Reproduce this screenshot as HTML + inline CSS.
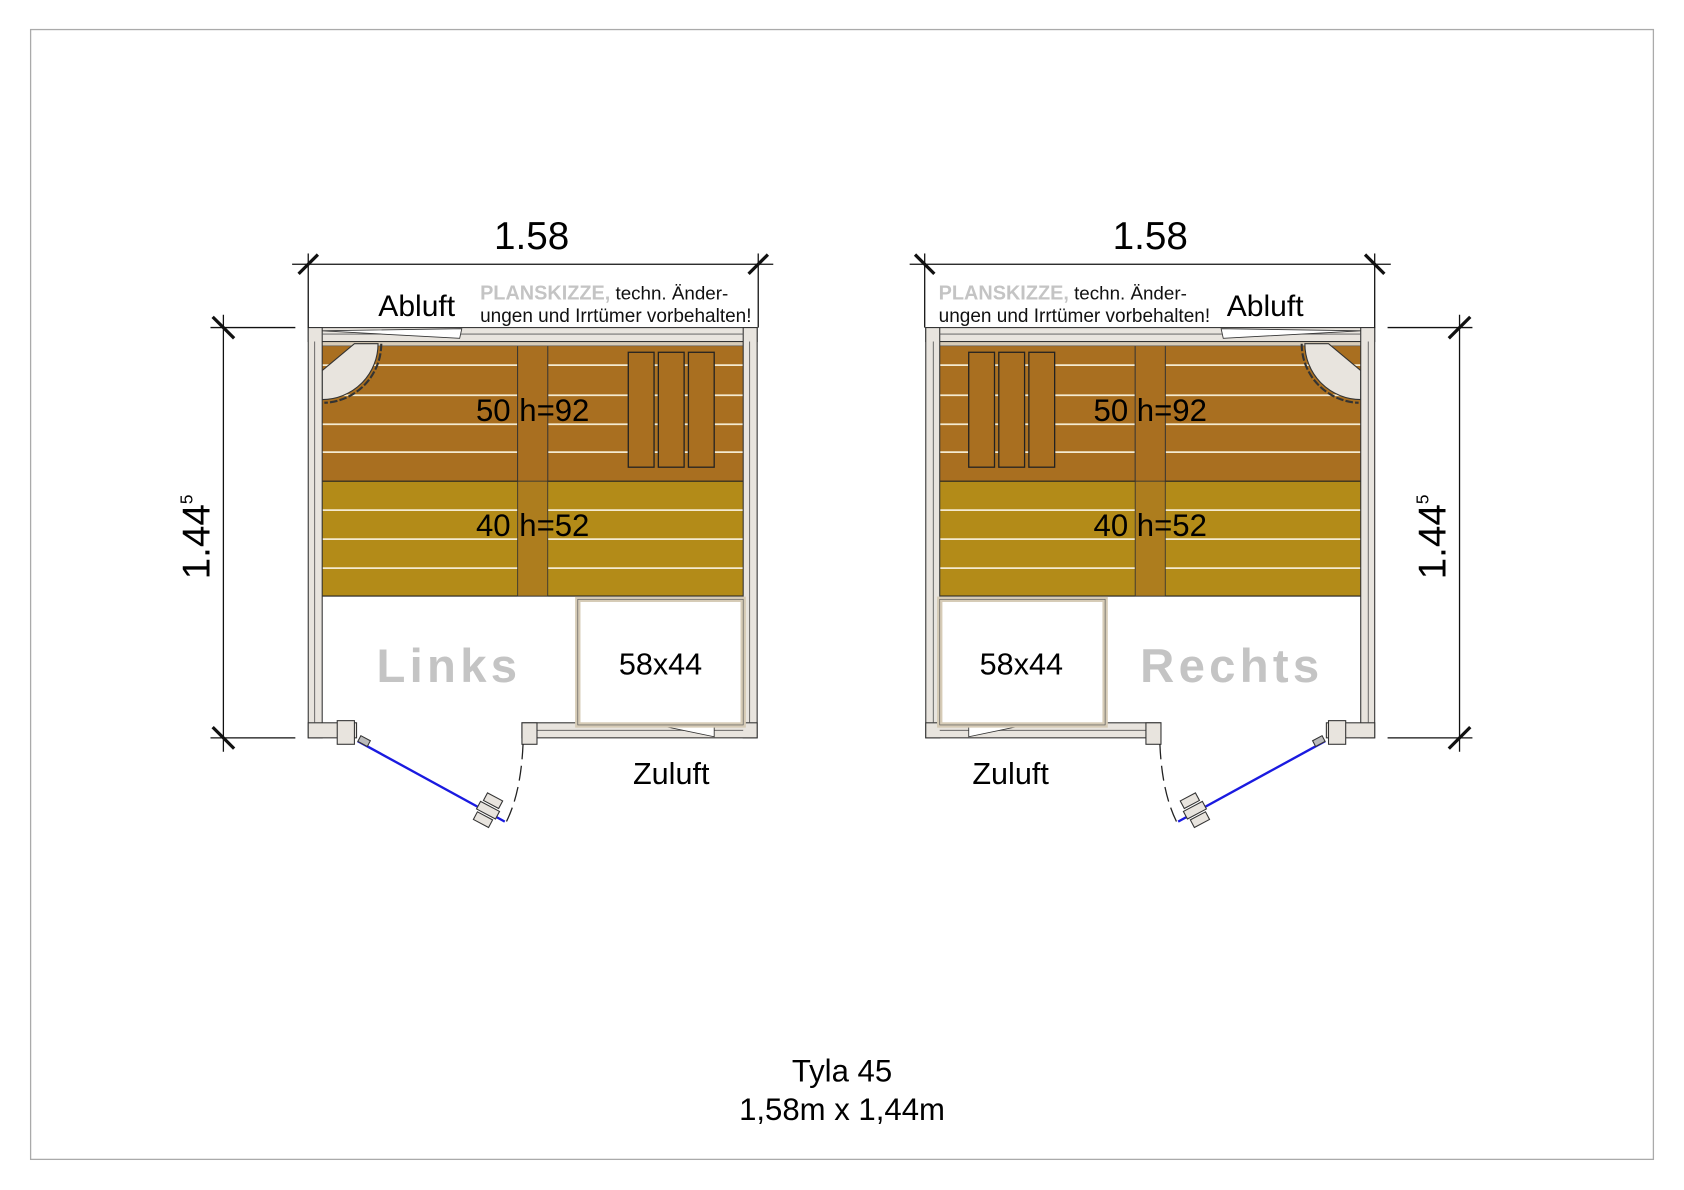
<!DOCTYPE html>
<html><head><meta charset="utf-8"><style>
html,body{margin:0;padding:0;background:#fff;}
svg{display:block;}
text{font-family:"Liberation Sans",sans-serif;}
</style></head><body>
<svg width="1684" height="1190" viewBox="0 0 1568 1108" xmlns="http://www.w3.org/2000/svg">
<rect x="0" y="0" width="1568" height="1108" fill="#fff"/>
<rect x="28.5" y="27.5" width="1511" height="1052" fill="none" stroke="#aaa" stroke-width="1.2"/>
<defs>
<g id="sauna">
  <rect x="300" y="318" width="392" height="130" fill="#a96f20"/>
  <rect x="300" y="448" width="392" height="107" fill="#b38b18"/>
  <line x1="300" y1="448" x2="692" y2="448" stroke="#222" stroke-width="1"/>
  <line x1="300" y1="555" x2="692" y2="555" stroke="#222" stroke-width="1"/>
  <g stroke="#f4ead0" stroke-width="1.6">
    <line x1="300" y1="340" x2="692" y2="340"/>
    <line x1="300" y1="368" x2="692" y2="368"/>
    <line x1="300" y1="395" x2="692" y2="395"/>
    <line x1="300" y1="421" x2="692" y2="421"/>
    <line x1="300" y1="475" x2="692" y2="475"/>
    <line x1="300" y1="502" x2="692" y2="502"/>
    <line x1="300" y1="529" x2="692" y2="529"/>
  </g>
  <rect x="482" y="318" width="28" height="237" fill="#ad7d1e" stroke="#333" stroke-width="0.8"/>
  <rect x="482" y="318" width="28" height="130" fill="#a96f20" stroke="#333" stroke-width="0.8"/>
  <g fill="#a96f20" stroke="#222" stroke-width="1.2">
    <rect x="585" y="328" width="24" height="107"/>
    <rect x="613" y="328" width="24" height="107"/>
    <rect x="641" y="328" width="24" height="107"/>
  </g>
  <rect x="300" y="318" width="392" height="4" fill="#d8ccb8" stroke="#555" stroke-width="0.6"/>
  <path d="M300 345 L330 320 L352 320 A52 52 0 0 1 300 372 Z" fill="#e8e4de" stroke="#333" stroke-width="1"/>
  <path d="M355 320 A55 55 0 0 1 302 375" fill="none" stroke="#333" stroke-width="2" stroke-dasharray="7 2"/>
  <g fill="#e8e4de" stroke="#333" stroke-width="1">
    <rect x="287" y="305" width="418" height="13"/>
    <rect x="287" y="305" width="13" height="382"/>
    <rect x="692" y="305" width="13" height="382"/>
    <rect x="486" y="673" width="219" height="14"/>
    <rect x="287" y="673" width="45" height="14"/>
  </g>
  <g stroke="#555" stroke-width="0.8">
    <line x1="300" y1="311" x2="692" y2="311"/>
    <line x1="293" y1="318" x2="293" y2="673"/>
    <line x1="698" y1="318" x2="698" y2="673"/>
    <line x1="500" y1="680" x2="692" y2="680"/>
  </g>
  <polygon points="430,306 428,315 300,308" fill="#fff" stroke="#333" stroke-width="0.8"/>
  <polygon points="612,675 665,675 665,686" fill="#fff" stroke="#333" stroke-width="0.8"/>
  <rect x="538" y="558" width="154" height="117" fill="#fff" stroke="#d6cbb6" stroke-width="5"/>
  <rect x="538" y="558" width="154" height="117" fill="none" stroke="#555" stroke-width="0.6"/>
  <g fill="#e8e4de" stroke="#333" stroke-width="1">
    <rect x="314" y="671" width="16" height="22"/>
    <rect x="486" y="673" width="14" height="20"/>
  </g>
  <line x1="333" y1="690" x2="470" y2="765" stroke="#1a1ae0" stroke-width="2.2"/>
  <rect x="334" y="687" width="10" height="6" fill="#bbb" stroke="#333" transform="rotate(28 339 690)"/>
  <g fill="#e8e4de" stroke="#333" stroke-width="1" transform="rotate(28 453 757)">
    <rect x="445" y="740" width="16" height="8"/>
    <rect x="443" y="750" width="20" height="8"/>
    <rect x="445" y="760" width="16" height="8"/>
  </g>
  <path d="M487 693 Q485 740 470 768" fill="none" stroke="#222" stroke-width="1.2" stroke-dasharray="14 6"/>
  <g stroke="#111" stroke-width="1.2">
    <line x1="272" y1="246" x2="720" y2="246"/>
    <line x1="287" y1="236" x2="287" y2="305"/>
    <line x1="706" y1="236" x2="706" y2="305"/>
    <line x1="196" y1="305" x2="275" y2="305"/>
    <line x1="196" y1="687" x2="275" y2="687"/>
    <line x1="208" y1="293" x2="208" y2="700"/>
  </g>
  <g stroke="#111" stroke-width="3">
    <line x1="278" y1="255" x2="296" y2="237"/>
    <line x1="697" y1="255" x2="715" y2="237"/>
    <line x1="198" y1="295" x2="218" y2="315"/>
    <line x1="198" y1="677" x2="218" y2="697"/>
  </g>
</g>
</defs>
<use href="#sauna"/>
<use href="#sauna" transform="translate(1567 0) scale(-1 1)"/>

<text x="495" y="232" font-size="36" text-anchor="middle">1.58</text>
<text x="388" y="294" font-size="28" text-anchor="middle">Abluft</text>
<text x="447" y="279" font-size="18.5" font-weight="bold" fill="#c4c4c4">PLANSKIZZE,<tspan fill="#111" font-weight="normal" font-size="17.5"> techn. Änder-</tspan></text>
<text x="447" y="300" font-size="17.7" fill="#111">ungen und Irrtümer vorbehalten!</text>
<text x="496" y="392" font-size="29" text-anchor="middle">50 h=92</text>
<text x="496" y="499" font-size="29" text-anchor="middle">40 h=52</text>
<text x="418" y="635" font-size="44" font-weight="bold" fill="#c4c4c4" text-anchor="middle" letter-spacing="4">Links</text>
<text x="615" y="628" font-size="28.5" text-anchor="middle">58x44</text>
<text x="625" y="730" font-size="28.5" text-anchor="middle">Zuluft</text>
<text transform="translate(195 500) rotate(-90)" font-size="36" text-anchor="middle">1.44<tspan font-size="16" dy="-16">5</tspan></text>

<text x="1071" y="232" font-size="36" text-anchor="middle">1.58</text>
<text x="1178" y="294" font-size="28" text-anchor="middle">Abluft</text>
<text x="874" y="279" font-size="18.5" font-weight="bold" fill="#c4c4c4">PLANSKIZZE,<tspan fill="#111" font-weight="normal" font-size="17.5"> techn. Änder-</tspan></text>
<text x="874" y="300" font-size="17.7" fill="#111">ungen und Irrtümer vorbehalten!</text>
<text x="1071" y="392" font-size="29" text-anchor="middle">50 h=92</text>
<text x="1071" y="499" font-size="29" text-anchor="middle">40 h=52</text>
<text x="1147" y="635" font-size="44" font-weight="bold" fill="#c4c4c4" text-anchor="middle" letter-spacing="4">Rechts</text>
<text x="951" y="628" font-size="28.5" text-anchor="middle">58x44</text>
<text x="941" y="730" font-size="28.5" text-anchor="middle">Zuluft</text>
<text transform="translate(1346 500) rotate(-90)" font-size="36" text-anchor="middle">1.44<tspan font-size="16" dy="-16">5</tspan></text>

<text x="784" y="1007" font-size="29" text-anchor="middle">Tyla 45</text>
<text x="784" y="1043" font-size="29" text-anchor="middle">1,58m x 1,44m</text>
</svg>
</body></html>
